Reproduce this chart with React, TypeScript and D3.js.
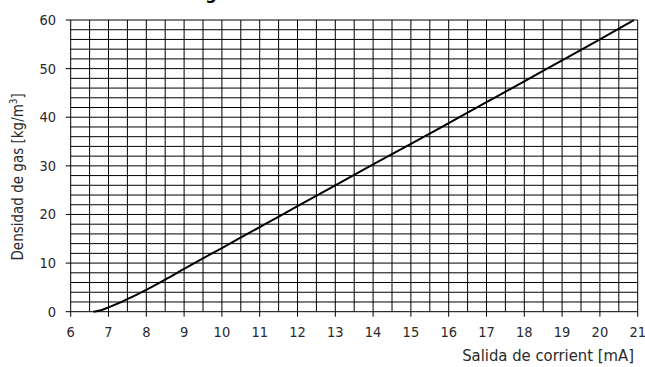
import React from "react";
import * as d3 from "d3";

// Current output (mA) vs. gas density (kg/m³)
const currentMA = [6.6, 6.8, 7.0, 7.25, 7.5, 7.75, 8.0, 8.5, 9, 10, 11, 12, 13, 14, 15, 16, 17, 18, 19, 20, 20.9];
const densityKg = [0, 0.3, 0.9, 1.7, 2.6, 3.5, 4.5, 6.6, 8.8, 13.1, 17.4, 21.7, 26.0, 30.3, 34.5, 38.8, 43.1, 47.4, 51.7, 56.0, 60];

const xTickLabels = [6, 7, 8, 9, 10, 11, 12, 13, 14, 15, 16, 17, 18, 19, 20, 21];
const yTickLabels = [0, 10, 20, 30, 40, 50, 60];
const xGridStep = 0.5;
const yGridStep = 2;

const W = 645;
const H = 367;
const FONT = "'Liberation Sans Narrow', 'DejaVu Sans Condensed', 'Roboto Condensed', sans-serif";

export default function App() {
  const left = 70.7;
  const right = 637.7;
  const top = 20;
  const bottom = 311.7;

  const x = d3.scaleLinear().domain([6, 21]).range([left, right]);
  const y = d3.scaleLinear().domain([0, 60]).range([bottom, top]);

  const xGrid = d3.range(6, 21 + 1e-9, xGridStep);
  const yGrid = d3.range(0, 60 + 1e-9, yGridStep);

  const pts: [number, number][] = currentMA.map((c, i) => [c, densityKg[i]]);
  const line = d3
    .line<[number, number]>()
    .x((d) => x(d[0]))
    .y((d) => y(d[1]))
    .curve(d3.curveMonotoneX);

  return (
    <svg
      width={W}
      height={H}
      style={{ position: "absolute", left: 0, top: 0, background: "#fff" }}
      fontFamily={FONT}
    >
      {/* title, mostly above the visible area */}
      <text x={211} y={-1} fontSize={18} fontWeight="bold" textAnchor="middle" fill="#000">
        g
      </text>

      {/* grid */}
      <g stroke="#000" strokeWidth={1} fill="none">
        {xGrid.map((v) => (
          <line key={"vx" + v} x1={x(v)} x2={x(v)} y1={top} y2={bottom} />
        ))}
        {yGrid.map((v) => (
          <line key={"hy" + v} x1={left} x2={right} y1={y(v)} y2={y(v)} />
        ))}
      </g>

      {/* ticks */}
      <g stroke="#000" strokeWidth={1}>
        {xTickLabels.map((v) => (
          <line key={"tx" + v} x1={x(v)} x2={x(v)} y1={bottom} y2={bottom + 5} />
        ))}
        {yTickLabels.map((v) => (
          <line key={"ty" + v} x1={left - 5} x2={left} y1={y(v)} y2={y(v)} />
        ))}
      </g>

      {/* tick labels */}
      <g fontSize={14.5} fill="#2a2a2a">
        {xTickLabels.map((v) => (
          <text key={"lx" + v} x={x(v)} y={337} textAnchor="middle">
            {v}
          </text>
        ))}
        {yTickLabels.map((v) => (
          <text key={"ly" + v} x={56} y={y(v) + 5} textAnchor="end">
            {v}
          </text>
        ))}
      </g>

      {/* curve */}
      <path d={line(pts) ?? ""} fill="none" stroke="#000" strokeWidth={2} />

      {/* axis titles */}
      <text x={634} y={361} fontSize={16.5} textAnchor="end" fill="#2a2a2a">
        Salida de corrient [mA]
      </text>
      <text
        transform={`translate(23, ${(top + bottom) / 2 + 11}) rotate(-90)`}
        fontSize={15}
        textAnchor="middle"
        fill="#2a2a2a"
      >
        Densidad de gas [kg/m<tspan dy={-6} fontSize={10}>3</tspan>
        <tspan dy={6}>]</tspan>
      </text>
    </svg>
  );
}
